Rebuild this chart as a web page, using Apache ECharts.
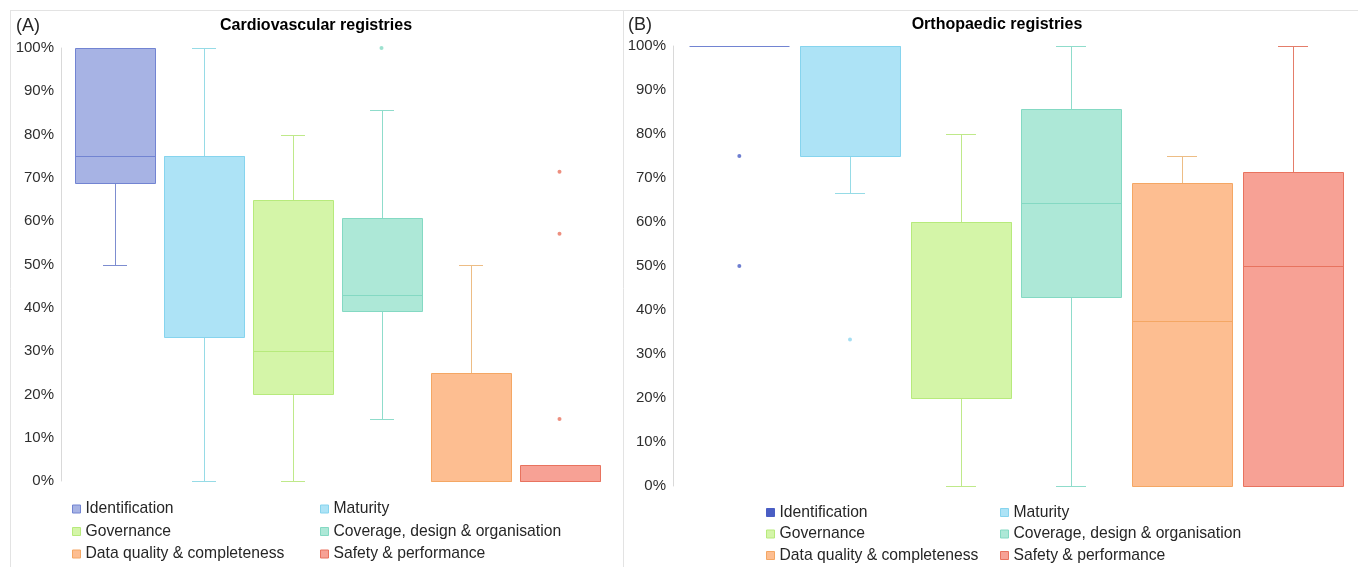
<!DOCTYPE html>
<html>
<head>
<meta charset="utf-8">
<title>Registry assessment scores</title>
<script src="https://cdn.jsdelivr.net/npm/echarts@6/dist/echarts.min.js"></script>
<style>
  html, body { margin: 0; padding: 0; background: #ffffff; }
  #chart { width: 1358px; height: 567px; }
</style>
</head>
<body>
<div id="chart"></div>
<script>
// Domains scored for each registry
const categories = [
  'Identification',
  'Maturity',
  'Governance',
  'Coverage, design & organisation',
  'Data quality & completeness',
  'Safety & performance'
];

// (A) Cardiovascular registries: five-number summaries (%)
const cvMin    = [50,   0,    0,  14.3, 0,  0];
const cvQ1     = [68.8, 33.3, 20, 39.3, 0,  0];
const cvMedian = [75,   75,   30, 42.9, 0,  0];
const cvQ3     = [100,  75,   65, 60.7, 25, 3.6];
const cvMax    = [100,  100,  80, 85.7, 50, 3.6];
// outliers as [domain index, score %]
const cvOutliers = [[3, 100], [5, 71.4], [5, 57.1], [5, 14.3]];

// (B) Orthopaedic registries: five-number summaries (%)
const orMin    = [100, 66.7, 0,  0,    0,    0];
const orQ1     = [100, 75,   20, 42.9, 0,    0];
const orMedian = [100, 100,  60, 64.3, 37.5, 50];
const orQ3     = [100, 100,  60, 85.7, 68.8, 71.4];
const orMax    = [100, 100,  80, 100,  75,   100];
const orOutliers = [[0, 75], [0, 50], [1, 33.3]];

// Percentage scale
const scoreMin = 0;
const scoreMax = 100;
const scoreStep = 10;

// Per-domain colours
const fills   = ['#a7b3e4', '#ade3f6', '#d4f5a8', '#ade8d7', '#fdbe91', '#f7a195'];
const strokes = ['#7284d2', '#86d4ee', '#b7ea7c', '#84d9c3', '#f4a764', '#e8735f'];
const whisk   = ['#7d8dd0', '#96dbe6', '#bfe98a', '#8fdccb', '#edbd85', '#e47d6a'];
const dots    = [['#7284d2', '#86d4ee', '#b7ea7c', '#84d9c3', '#f4a764', '#e8735f'],
                 ['#4a5ec4', '#8fd6ef', '#b7ea7c', '#84d9c3', '#f4a764', '#e8735f']];

const FONT = '"Liberation Sans", Arial, Helvetica, sans-serif';

function boxRenderer(idx) {
  return function (params, api) {
    const cat = api.value(0);
    const band = api.size([1, 0])[0];
    const cx = Math.round(api.coord([cat, 0])[0]);
    const half = Math.round(band * 0.455);
    const cap = Math.round(band * 0.135);
    const y = v => Math.round(api.coord([cat, v])[1]) + 0.5;
    const lo = api.value(1), q1 = api.value(2), md = api.value(3), q3 = api.value(4), hi = api.value(5);
    const wStyle = { stroke: whisk[idx], lineWidth: 1 };
    const kids = [];
    const xc = cx + 0.5;
    if (hi > q3) {
      kids.push({ type: 'line', shape: { x1: xc, y1: y(q3), x2: xc, y2: y(hi) }, style: wStyle });
      kids.push({ type: 'line', shape: { x1: cx - cap, y1: y(hi), x2: cx + cap, y2: y(hi) }, style: wStyle });
    }
    if (lo < q1) {
      kids.push({ type: 'line', shape: { x1: xc, y1: y(q1), x2: xc, y2: y(lo) }, style: wStyle });
      kids.push({ type: 'line', shape: { x1: cx - cap, y1: y(lo), x2: cx + cap, y2: y(lo) }, style: wStyle });
    }
    const top = y(q3), bottom = y(q1);
    if (bottom - top > 0.5) {
      kids.push({
        type: 'rect',
        shape: { x: cx - half + 0.5, y: top, width: half * 2, height: bottom - top },
        style: { fill: fills[idx], stroke: strokes[idx], lineWidth: 1 }
      });
    }
    kids.push({ type: 'line', shape: { x1: cx - half + 0.5, y1: y(md), x2: cx + half + 0.5, y2: y(md) },
                style: { stroke: strokes[idx], lineWidth: 1 } });
    return { type: 'group', children: kids };
  };
}

function panelSeries(panel, mins, q1s, meds, q3s, maxs, outliers) {
  const list = categories.map((name, i) => ({
    type: 'custom',
    name: name,
    xAxisIndex: panel,
    yAxisIndex: panel,
    itemStyle: { color: fills[i], borderColor: strokes[i] },
    encode: { x: 0, y: [1, 2, 3, 4, 5] },
    data: [[i, mins[i], q1s[i], meds[i], q3s[i], maxs[i]]],
    renderItem: boxRenderer(i),
    silent: true,
    z: 2
  }));
  list.push({
    type: 'scatter',
    xAxisIndex: panel,
    yAxisIndex: panel,
    symbol: 'circle',
    symbolSize: 4,
    silent: true,
    z: 3,
    data: outliers.map(o => ({ value: o, itemStyle: { color: dots[panel][o[0]] } }))
  });
  return list;
}

function legendColumn(indices, left, top, gap, overrides) {
  return {
    orient: 'vertical',
    left: left,
    top: top,
    itemWidth: 8,
    itemHeight: 8,
    itemGap: gap,
    icon: 'rect',
    selectedMode: false,
    padding: 0,
    textStyle: { fontSize: 15.7, fontFamily: FONT, color: '#262626', lineHeight: 15 },
    data: indices.map(i => ({
      name: categories[i],
      itemStyle: Object.assign({ color: fills[i], borderColor: strokes[i], borderWidth: 1 }, overrides[i] || {})
    }))
  };
}

function yAxisFor(panel, offset) {
  return {
    type: 'value',
    gridIndex: panel,
    min: scoreMin,
    max: scoreMax,
    interval: scoreStep,
    offset: offset,
    axisLine: { show: true, lineStyle: { color: '#d9d9d9', width: 1 } },
    axisTick: { show: false },
    splitLine: { show: false },
    axisLabel: { formatter: '{value}%', fontSize: 15, fontFamily: FONT, color: '#2e2e2e', margin: 7 }
  };
}

function xAxisFor(panel) {
  return {
    type: 'category',
    gridIndex: panel,
    data: categories,
    boundaryGap: true,
    axisLine: { show: false },
    axisTick: { show: false },
    axisLabel: { show: false },
    splitLine: { show: false }
  };
}

const rightIdOverride = { 0: { color: '#4a5ec4', borderColor: '#4a5ec4' } };

const option = {
  animation: false,
  backgroundColor: '#ffffff',
  grid: [
    { left: 70, top: 48, width: 534, height: 433 },
    { left: 684, top: 46, width: 664, height: 440 }
  ],
  xAxis: [xAxisFor(0), xAxisFor(1)],
  yAxis: [yAxisFor(0, 9), yAxisFor(1, 11)],
  legend: [
    legendColumn([0, 2, 4], 72, 501, 6.5, {}),
    legendColumn([1, 3, 5], 320, 501, 6.5, {}),
    legendColumn([0, 2, 4], 766, 504.5, 5.5, rightIdOverride),
    legendColumn([1, 3, 5], 1000, 504.5, 5.5, rightIdOverride)
  ],
  graphic: [
    // panel frames
    { type: 'line', shape: { x1: 10, y1: 10.5, x2: 1358, y2: 10.5 }, style: { stroke: '#e3e3e3', lineWidth: 1 }, silent: true },
    { type: 'line', shape: { x1: 10.5, y1: 10, x2: 10.5, y2: 567 }, style: { stroke: '#e3e3e3', lineWidth: 1 }, silent: true },
    { type: 'line', shape: { x1: 623.5, y1: 10, x2: 623.5, y2: 567 }, style: { stroke: '#e3e3e3', lineWidth: 1 }, silent: true },
    // panel letters and titles
    { type: 'text', x: 16, y: 26, style: { text: '(A)', fontSize: 18, fontFamily: FONT, fill: '#262626', verticalAlign: 'middle' }, silent: true },
    { type: 'text', x: 628, y: 25, style: { text: '(B)', fontSize: 18, fontFamily: FONT, fill: '#262626', verticalAlign: 'middle' }, silent: true },
    { type: 'text', x: 316, y: 26, style: { text: 'Cardiovascular registries', fontSize: 16, fontWeight: 'bold', fontFamily: FONT, fill: '#000000', align: 'center', verticalAlign: 'middle' }, silent: true },
    { type: 'text', x: 997, y: 25, style: { text: 'Orthopaedic registries', fontSize: 16, fontWeight: 'bold', fontFamily: FONT, fill: '#000000', align: 'center', verticalAlign: 'middle' }, silent: true }
  ],
  series: [
    ...panelSeries(0, cvMin, cvQ1, cvMedian, cvQ3, cvMax, cvOutliers),
    ...panelSeries(1, orMin, orQ1, orMedian, orQ3, orMax, orOutliers)
  ]
};

const chart = echarts.init(document.getElementById('chart'), null, { renderer: 'canvas' });
chart.setOption(option);
</script>
</body>
</html>
